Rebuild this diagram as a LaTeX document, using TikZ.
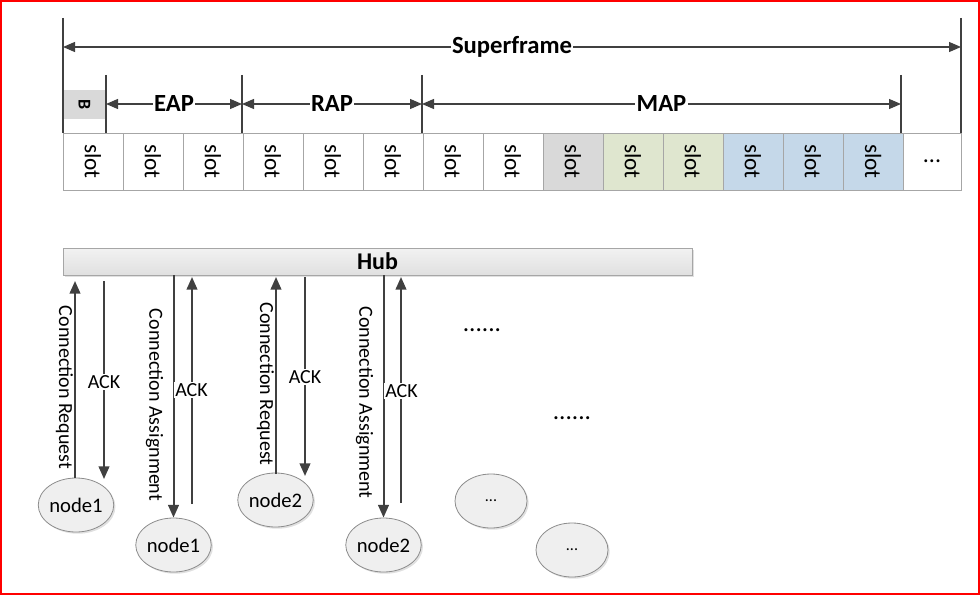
\documentclass[tikz,border=0pt]{standalone}
\usepackage{fontspec}
\setmainfont{Carlito}
\usetikzlibrary{arrows.meta,shapes.geometric,shadows}
\definecolor{dim}{HTML}{404040}
\definecolor{slotline}{HTML}{A6A6A6}
\definecolor{sgray}{HTML}{D9D9D9}
\definecolor{sgreen}{HTML}{DFE6CF}
\definecolor{sblue}{HTML}{C5D8E9}
\definecolor{hubline}{HTML}{A6A6A6}
\definecolor{hubtop}{HTML}{F2F2F2}
\definecolor{hubbot}{HTML}{E0E0E0}
\definecolor{devline}{HTML}{8C8C8C}
\definecolor{devfill}{HTML}{EFEFEF}
\begin{document}
\begin{tikzpicture}[x=0.75pt,y=-0.75pt,
  dimline/.style={draw=dim, line width=0.9pt},
  dimarr/.style={dimline, {Triangle[length=9pt,width=7.5pt]}-{Triangle[length=9pt,width=7.5pt]}},
  dimlbl/.style={fill=white, inner sep=1pt, text=black, font=\fontsize{18.5}{20}\selectfont\bfseries},
  slotbox/.style={draw=slotline, line width=0.6pt, minimum width=45pt, minimum height=42.75pt, inner sep=0pt, font=\fontsize{17.5}{20}\selectfont},
  msg/.style={draw=dim, line width=1.5pt, -{Triangle[length=9.5pt,width=8pt]}},
  msglbl/.style={inner sep=0.5pt, font=\fontsize{15}{18}\selectfont},
  acklbl/.style={msglbl, fill=white, inner sep=1pt},
  dev/.style={ellipse, draw=devline, line width=0.6pt, fill=devfill, minimum width=54pt, minimum height=40.5pt, inner sep=0pt,
    font=\fontsize{15.5}{18}\selectfont,
    drop shadow={shadow xshift=1.3pt, shadow yshift=-1.3pt, fill=black, opacity=0.12}},
  dotslbl/.style={inner sep=0pt, font=\fontsize{19}{20}\selectfont}
]
\useasboundingbox (0,0) rectangle (980,595);
\draw[red, line width=1.5pt] (1,1) rectangle (979,594);

% ---- slot row ----
\foreach \i/\c in {0/white,1/white,2/white,3/white,4/white,5/white,6/white,7/white,8/sgray,9/sgreen,10/sgreen,11/sblue,12/sblue,13/sblue}
  \node[slotbox, fill=\c] (s\i) at ({93+60*\i},161.5) {\rotatebox{-90}{slot}};
\node[slotbox, minimum width=43.5pt, font=\fontsize{18}{20}\selectfont] (sdots) at (932,161.5) {...};

% ---- beacon ----
\node[fill=sgray, minimum width=32.25pt, minimum height=21.75pt, inner sep=0pt,
      font=\fontsize{13.5}{14}\selectfont\bfseries] (B) at (84.5,104.5) {\rotatebox{-90}{B}};

% ---- dimension ticks ----
\coordinate (tl0) at (63,18);   \coordinate (tl1) at (63,133);
\coordinate (tr0) at (961,18);  \coordinate (tr1) at (961,133);
\coordinate (te0) at (106,75);  \coordinate (te1) at (106,133);
\coordinate (tra0) at (242,75); \coordinate (tra1) at (242,133);
\coordinate (tm0) at (422,75);  \coordinate (tm1) at (422,133);
\coordinate (tx0) at (901,75);  \coordinate (tx1) at (901,133);
\foreach \a in {tl,tr,te,tra,tm,tx} \draw[dimline] (\a0) -- (\a1);

\coordinate (sfL) at (63,47);  \coordinate (sfR) at (961,47);
\draw[dimarr] (sfL) -- node[dimlbl] (lsf) {Superframe} (sfR);
\coordinate (eL) at (106,104); \coordinate (eR) at (242,104);
\draw[dimarr] (eL) -- node[dimlbl] (leap) {EAP} (eR);
\coordinate (rL) at (242,104); \coordinate (rR) at (422,104);
\draw[dimarr] (rL) -- node[dimlbl] (lrap) {RAP} (rR);
\coordinate (mL) at (422,104); \coordinate (mR) at (901,104);
\draw[dimarr] (mL) -- node[dimlbl] (lmap) {MAP} (mR);

% ---- hub ----
\node[draw=hubline, line width=0.6pt, top color=hubtop, bottom color=hubbot,
      minimum width=471.75pt, minimum height=20.25pt, inner sep=0pt,
      font=\fontsize{18}{20}\selectfont\bfseries,
      drop shadow={shadow xshift=1.2pt, shadow yshift=-1.2pt, fill=black, opacity=0.12}] (hub) at (377.5,261.5) {Hub};

% ---- devices ----
\node[dev] (n1a) at (76,505) {node1};
\node[dev] (n1b) at (173.5,545) {node1};
\node[dev] (n2a) at (275.5,500) {node2};
\node[dev] (n2b) at (383.5,545) {node2};
\node[dev, font=\fontsize{12}{14}\selectfont] (n3a) at (491,501) {...};
\node[dev, font=\fontsize{12}{14}\selectfont] (n3b) at (572,550) {...};

% ---- messages ----
\coordinate (g1u0) at (75,478);  \coordinate (g1u1) at (75,281);
\coordinate (g1d0) at (104,281); \coordinate (g1d1) at (104,479);
\coordinate (g2u0) at (192,504); \coordinate (g2u1) at (192,277);
\coordinate (g3u0) at (276,474); \coordinate (g3u1) at (276,277);
\coordinate (g3d0) at (305,277); \coordinate (g3d1) at (305,476);
\coordinate (g4u0) at (401,503); \coordinate (g4u1) at (401,277);

\draw[msg] (g1u0) -- (g1u1);
\draw[msg] (g1d0) -- (g1d1);
\draw[msg] (hub.south -| n1b.north) -- (n1b.north);
\draw[msg] (g2u0) -- (g2u1);
\draw[msg] (g3u0) -- (g3u1);
\draw[msg] (g3d0) -- (g3d1);
\draw[msg] (hub.south -| n2b.north) -- (n2b.north);
\draw[msg] (g4u0) -- (g4u1);

\node[msglbl] (l1) at (64.5,387.5) {\rotatebox{-90}{Connection Request}};
\node[acklbl] (a1) at (104,382) {ACK};
\node[msglbl] (l2) at (154.5,405) {\rotatebox{-90}{Connection Assignment}};
\node[acklbl] (a2) at (191.5,390) {ACK};
\node[msglbl] (l3) at (265.5,384) {\rotatebox{-90}{Connection Request}};
\node[acklbl] (a3) at (305,377) {ACK};
\node[msglbl] (l4) at (364.5,402.5) {\rotatebox{-90}{Connection Assignment}};
\node[acklbl] (a4) at (401.5,391) {ACK};

\node[dotslbl] (d1) at (482,330) {......};
\node[dotslbl] (d2) at (572,418) {......};
\end{tikzpicture}
\end{document}
